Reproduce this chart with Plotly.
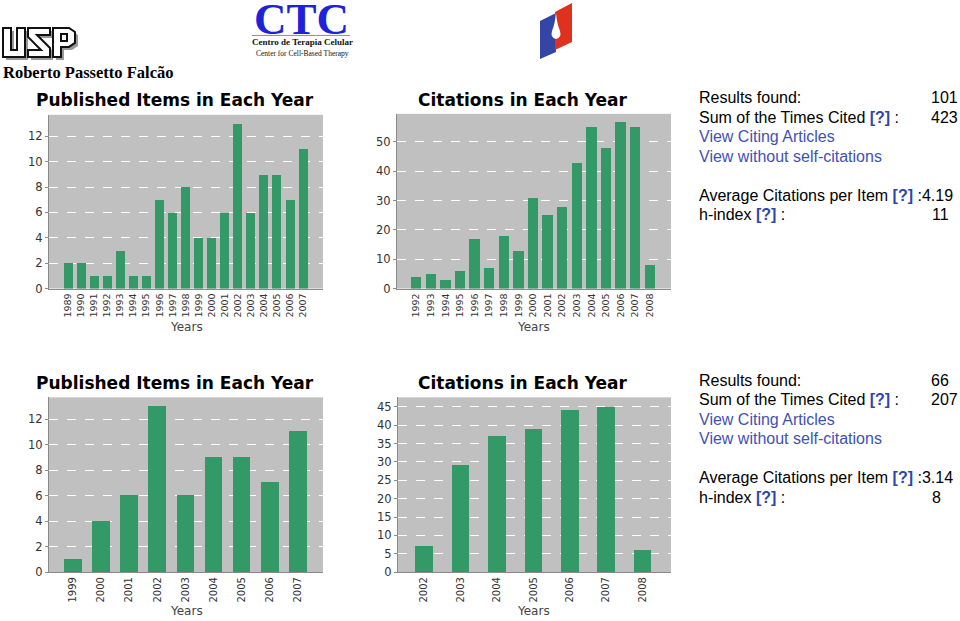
import plotly.graph_objects as go

W, H = 960, 621          # design grid (reference pixels)
FIG_H = 627              # page height rendered (viewport is slightly taller than 621)

# ---------------- data ----------------
pub_years_a = ["1989", "1990", "1991", "1992", "1993", "1994", "1995", "1996", "1997", "1998",
               "1999", "2000", "2001", "2002", "2003", "2004", "2005", "2006", "2007"]
pub_counts_a = [2, 2, 1, 1, 3, 1, 1, 7, 6, 8, 4, 4, 6, 13, 6, 9, 9, 7, 11]

cit_years_a = ["1992", "1993", "1994", "1995", "1996", "1997", "1998", "1999", "2000",
               "2001", "2002", "2003", "2004", "2005", "2006", "2007", "2008"]
cit_counts_a = [4, 5, 3, 6, 17, 7, 18, 13, 31, 25, 28, 43, 55, 48, 57, 55, 8]

pub_years_b = ["1999", "2000", "2001", "2002", "2003", "2004", "2005", "2006", "2007"]
pub_counts_b = [1, 4, 6, 13, 6, 9, 9, 7, 11]

cit_years_b = ["2002", "2003", "2004", "2005", "2006", "2007", "2008"]
cit_counts_b = [7, 29, 37, 39, 44, 45, 6]

stats_a = {"results": "101", "sum": "423", "avg": "4.19", "h": "11"}
stats_b = {"results": "66", "sum": "207", "avg": "3.14", "h": "8"}

# ---------------- helpers ----------------
def px(x):
    return x / W


def py(y):
    return 1 - y / H


BAR = "#339966"
TICKFONT = "DejaVu Sans"

fig = go.Figure()

panels = [
    # x, y, x-left, x-right, y-bottom, y-top, xrange, ymax, dtick, barwidth, xfont
    (pub_years_a, pub_counts_a, 49, 323, 289, 115, [-1.455, 19.525], 13.7, 2, 0.69, 9.5),
    (cit_years_a, cit_counts_a, 397, 671, 289, 114, [-1.32, 17.45], 59.6, 10, 0.71, 9.5),
    (pub_years_b, pub_counts_b, 49, 323, 573, 398, [-0.854, 8.897], 13.7, 2, 0.63, 10),
    (cit_years_b, cit_counts_b, 398, 671, 573, 398, [-0.72, 6.78], 47.6, 5, 0.48, 10),
]

layout_axes = {}
for i, (xs, ys, xl, xr, yb, yt, xrng, ymax, dt, bw, xfs) in enumerate(panels, start=1):
    xa = "x" if i == 1 else f"x{i}"
    ya = "y" if i == 1 else f"y{i}"
    fig.add_trace(go.Bar(x=xs, y=ys, xaxis=xa, yaxis=ya, width=bw,
                         marker=dict(color=BAR, line=dict(width=0)),
                         showlegend=False))
    layout_axes["xaxis" if i == 1 else f"xaxis{i}"] = dict(
        domain=[px(xl), px(xr)], anchor=ya, type="category", range=xrng,
        tickangle=-90, tickfont=dict(family=TICKFONT, size=xfs, color="#333333"),
        showline=True, linecolor="#8a8a8a", linewidth=1, showgrid=False,
        ticks="", zeroline=False, fixedrange=True)
    layout_axes["yaxis" if i == 1 else f"yaxis{i}"] = dict(
        domain=[py(yb), py(yt)], anchor=xa, range=[0, ymax], dtick=dt, tick0=0,
        showgrid=True, gridcolor="#ffffff", griddash="dash", gridwidth=1,
        showline=True, linecolor="#8a8a8a", linewidth=1, ticks="outside",
        ticklen=3, tickcolor="#8a8a8a",
        tickfont=dict(family=TICKFONT, size=11.5, color="#333333"),
        zeroline=False, fixedrange=True)

annotations = []
shapes = []


def ann(x, y, text, size, color="#000000", family="Liberation Sans", xanchor="left",
        yanchor="middle", bold=False):
    annotations.append(dict(
        x=px(x), y=py(y), xref="paper", yref="paper", text=text, showarrow=False,
        xanchor=xanchor, yanchor=yanchor,
        font=dict(size=size, color=color, family=family, weight="bold" if bold else "normal")))


# chart titles and axis titles
for cx, cy, t in [(175, 100, "Published Items in Each Year"), (522, 100, "Citations in Each Year"),
                  (175, 384, "Published Items in Each Year"), (522, 384, "Citations in Each Year")]:
    ann(cx, cy, t, 17, "#000000", "DejaVu Sans", xanchor="center", bold=True)
for cx, cy in [(186, 328), (533, 328), (186, 612), (533, 612)]:
    ann(cx, cy, "Years", 12, "#444444", "DejaVu Sans", xanchor="center")

# stats blocks
LINK = "#3f51b5"
Q = '<b><span style="color:#2f45a8">[?]</span></b>'
for base, st in [(98, stats_a), (381, stats_b)]:
    rows = [base, base + 19.5, base + 39, base + 58.5, base + 97.5, base + 117]
    ann(697, rows[0], "Results found:", 16)
    ann(929, rows[0], st["results"], 16)
    ann(697, rows[1], "Sum of the Times Cited " + Q + " :", 16)
    ann(929, rows[1], st["sum"], 16)
    ann(697, rows[2], "View Citing Articles", 16, LINK)
    ann(697, rows[3], "View without self-citations", 16, LINK)
    ann(697, rows[4], "Average Citations per Item " + Q + " :" + st["avg"], 16)
    ann(697, rows[5], "h-index " + Q + " :", 16)
    ann(930, rows[5], st["h"], 16)

# name
ann(1, 73, "Roberto Passetto Falcão", 16.5, "#000000", "Liberation Serif", bold=True)

# CTC logo
ann(301, 19, "CTC", 45, "#1e22d8", "Liberation Serif", xanchor="center", bold=True)
ann(302, 42, "Centro de Terapia Celular", 9, "#111111", "Liberation Serif", xanchor="center", bold=True)
ann(302, 53.5, "Center for Cell-Based Therapy", 7.5, "#111111", "Liberation Serif", xanchor="center")


def path(points):
    s = "M " + " L ".join(f"{px(a):.5f},{py(b):.5f}" for a, b in points) + " Z"
    return s


def poly(points, fill, line="rgba(0,0,0,0)", lw=0):
    shapes.append(dict(type="path", xref="paper", yref="paper", path=path(points),
                       fillcolor=fill, line=dict(color=line, width=lw), layer="above"))


shapes.append(dict(type="line", xref="paper", yref="paper", x0=px(252), x1=px(350),
                   y0=py(35.5), y1=py(35.5), line=dict(color="#9a8a8a", width=1)))

# USP logo (outlined letters with grey shadow)
U = [(3, 28), (11, 28), (11, 50), (17, 50), (17, 28), (25, 28), (25, 57), (3, 57)]
S = [(28, 28), (50, 28), (50, 35), (37, 35), (50, 48), (50, 57), (28, 57), (28, 50), (41, 50), (28, 37)]
P = [(53, 28), (69, 28), (75, 32), (75, 43), (69, 47), (61, 47), (61, 57), (53, 57)]
PH = [(61, 34), (67, 34), (67, 41), (61, 41)]
for letter in (U, S, P):
    poly([(a + 3, b + 3) for a, b in letter], "#9a9a9a")
for letter in (U, S, P):
    poly(letter, "#ffffff", "#111111", 2)
poly(PH, "#ffffff", "#111111", 2)

# blood-drop logo
poly([(540, 21), (556, 13), (556, 52), (540, 59)], "#3346a6")
poly([(555, 12), (572, 3), (572, 42), (555, 50)], "#e0301e")
shapes.append(dict(type="path", xref="paper", yref="paper",
                   path=(f"M {px(556):.5f},{py(13):.5f} "
                         f"Q {px(557):.5f},{py(24):.5f} {px(560):.5f},{py(31):.5f} "
                         f"Q {px(562):.5f},{py(38):.5f} {px(556):.5f},{py(39):.5f} "
                         f"Q {px(550):.5f},{py(38):.5f} {px(552):.5f},{py(31):.5f} "
                         f"Q {px(555):.5f},{py(24):.5f} {px(556):.5f},{py(13):.5f} Z"),
                   fillcolor="#ffffff", line=dict(width=0), layer="above"))

fig.update_layout(
    width=W, height=FIG_H, margin=dict(l=0, r=0, t=0, b=0),
    paper_bgcolor="#ffffff", plot_bgcolor="#c0c0c0",
    annotations=annotations, shapes=shapes, bargap=0,
    **layout_axes,
)

POST = (
    "document.documentElement.style.margin='0';"
    "document.body.style.margin='0';"
    "document.body.style.overflow='hidden';"
)

fig.write_html("out.html", config={"displayModeBar": False}, post_script=POST)
